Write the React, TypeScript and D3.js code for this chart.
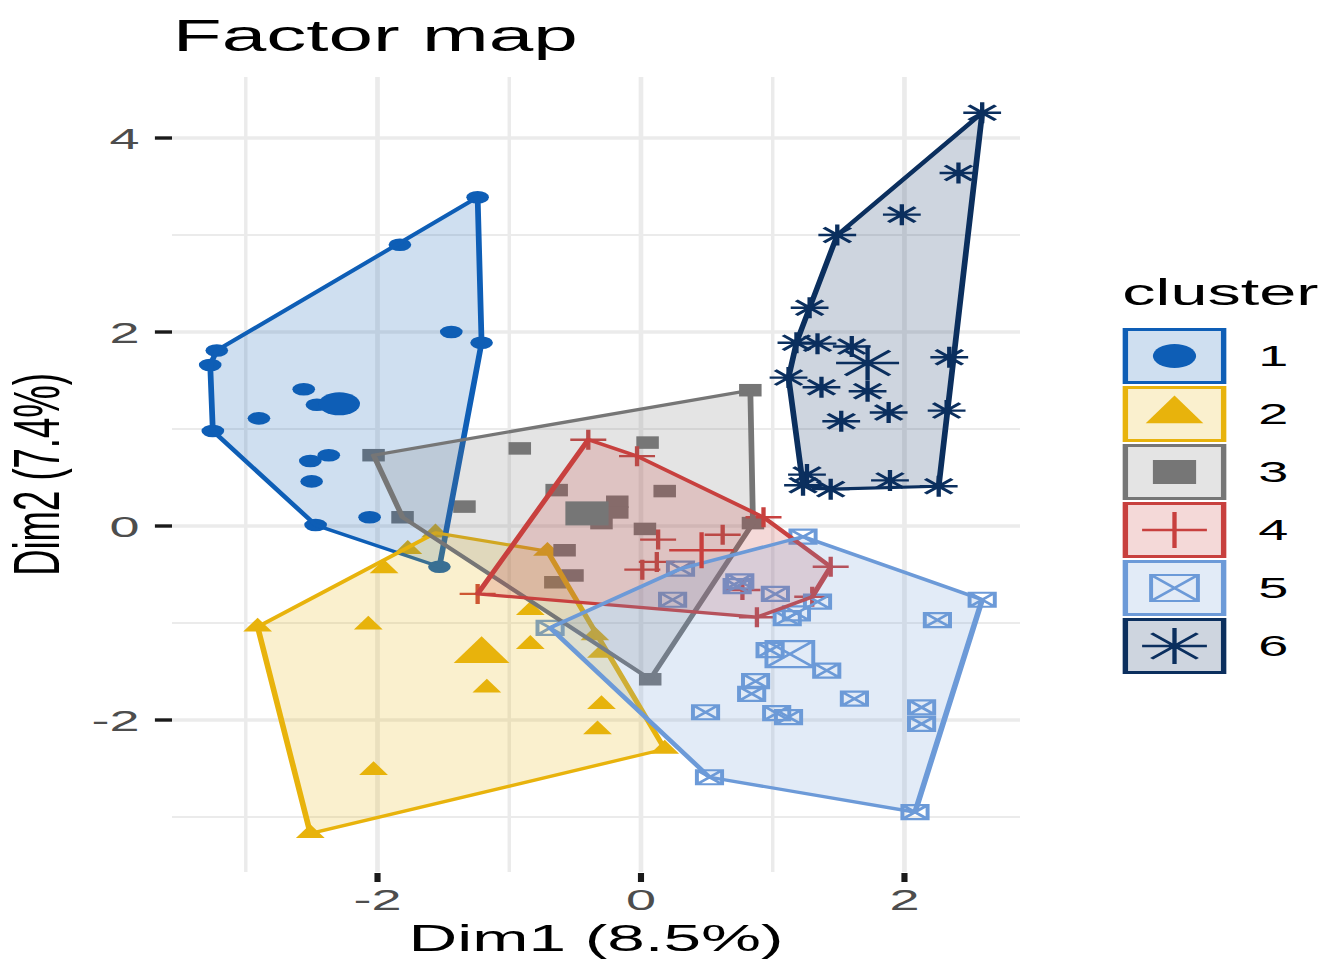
import React from 'react';
import * as d3 from 'd3';

// the reference picture is stretched sideways, so we draw in a narrow viewBox and stretch it
const K = 1.8;
const W = 1335;
const H = 961;
const VBW = W / K;

const clusterIds = ['1', '2', '3', '4', '5', '6'];
const clusterColors = ['#0E5EB6', '#E8B30C', '#767676', '#C8403E', '#6C9AD8', '#0B2F5E'];
const clusterShapes = ['circle', 'triangle', 'square', 'cross', 'boxx', 'star'];

type Pt = [number, number];

const cluster1: Pt[] = [
  [-1.24, 3.39], [-1.83, 2.9], [-1.44, 2.0], [-1.21, 1.89], [-3.22, 1.81], [-3.27, 1.66],
  [-2.56, 1.41], [-2.46, 1.25], [-2.9, 1.11], [-3.25, 0.98], [-2.37, 0.73], [-2.51, 0.67],
  [-2.5, 0.46], [-2.06, 0.09], [-2.47, 0.01], [-1.53, -0.42],
];
const cluster2: Pt[] = [
  [-2.91, -1.04], [-2.51, -3.17], [0.18, -2.3], [-1.56, -0.07], [-0.71, -0.26], [-1.77, -0.24],
  [-1.95, -0.44], [-2.07, -1.02], [-0.84, -0.87], [-0.84, -1.22], [-1.17, -1.67], [-0.35, -1.13],
  [-0.3, -1.31], [-0.3, -1.84], [-0.33, -2.1], [-2.03, -2.52],
];
const cluster3: Pt[] = [
  [0.83, 1.4], [-2.03, 0.73], [0.07, -1.58], [0.85, 0.03], [-1.81, 0.09], [-0.92, 0.8],
  [-1.34, 0.2], [0.05, 0.86], [-0.64, 0.37], [0.18, 0.36], [-0.18, 0.25], [-0.18, 0.14],
  [-0.3, 0.03], [0.03, -0.03], [-0.58, -0.25], [-0.52, -0.51], [-0.65, -0.58],
];
const cluster4: Pt[] = [
  [-0.4, 0.89], [-0.03, 0.72], [0.93, 0.09], [1.44, -0.42], [1.3, -0.73], [0.88, -0.94],
  [-1.24, -0.7], [0.13, -0.14], [0.62, -0.09], [0.12, -0.37], [0.01, -0.45], [0.77, -0.66],
];
const cluster5: Pt[] = [
  [1.23, -0.11], [2.59, -0.76], [2.08, -2.95], [0.52, -2.59], [-0.69, -1.05], [0.3, -0.44],
  [0.75, -0.57], [0.73, -0.62], [1.02, -0.7], [0.24, -0.76], [1.34, -0.78], [1.18, -0.9],
  [1.11, -0.95], [2.25, -0.97], [0.98, -1.28], [1.41, -1.49], [0.87, -1.6], [0.84, -1.73],
  [1.62, -1.78], [0.49, -1.92], [1.03, -1.93], [1.12, -1.97], [2.13, -1.87], [2.13, -2.04],
];
const cluster6: Pt[] = [
  [2.59, 4.26], [2.41, 3.64], [1.98, 3.21], [1.49, 3.0], [1.28, 2.25], [1.18, 1.89],
  [1.34, 1.88], [1.6, 1.85], [1.12, 1.53], [1.37, 1.43], [1.72, 1.39], [2.34, 1.74],
  [2.32, 1.19], [1.52, 1.08], [1.88, 1.17], [1.26, 0.53], [1.23, 0.42], [1.44, 0.38],
  [1.89, 0.47], [2.26, 0.41],
];
const clusters = [cluster1, cluster2, cluster3, cluster4, cluster5, cluster6];

const centroids: Pt[] = [
  [-2.29, 1.26], [-1.21, -1.32], [-0.41, 0.13], [0.46, -0.25], [1.13, -1.32], [1.72, 1.68],
];

const xMajor = [-2, 0, 2];
const xMinor = [-3, -1, 1];
const yMajor = [-2, 0, 2, 4];
const yMinor = [-3, -1, 1, 3];

const title = 'Factor map';
const xTitle = 'Dim1 (8.5%)';
const yTitle = 'Dim2 (7.4%)';
const legendTitle = 'cluster';

// panel box in viewBox units
const left = 172 / K;
const right = 1020 / K;
const top = 77;
const bottom = 872;

const x = d3.scaleLinear().domain([-3.56, 2.877]).range([left, right]);
const y = d3.scaleLinear().domain([-3.567, 4.629]).range([bottom, top]);

const pointSize: Record<string, number> = { circle: 12.6, triangle: 16, square: 12.5, cross: 20, boxx: 14, star: 21 };
const centerSize: Record<string, number> = { circle: 23, triangle: 31, square: 24, cross: 36, boxx: 26, star: 35 };
const keySize: Record<string, number> = { circle: 24, triangle: 32, square: 24, cross: 36, boxx: 26, star: 36 };

const FONT = '"Liberation Sans", Arial, Helvetica, sans-serif';

function Glyph({ shape, color, s }: { shape: string; color: string; s: number }) {
  const h = s / 2;
  switch (shape) {
    case 'circle':
      return <circle r={h} fill={color} />;
    case 'triangle': {
      const th = (s * Math.sqrt(3)) / 2;
      return <path d={`M0,${(-2 * th) / 3}L${h},${th / 3}L${-h},${th / 3}Z`} fill={color} />;
    }
    case 'square':
      return <rect x={-h} y={-h} width={s} height={s} fill={color} />;
    case 'cross':
      return <path d={`M${-h},0H${h}M0,${-h}V${h}`} stroke={color} strokeWidth={2.4} fill="none" />;
    case 'boxx':
      return (
        <path
          d={`M${-h},${-h}H${h}V${h}H${-h}ZM${-h},${-h}L${h},${h}M${h},${-h}L${-h},${h}`}
          stroke={color}
          strokeWidth={2.2}
          fill="none"
        />
      );
    case 'star': {
      const d = h / Math.SQRT2;
      return (
        <path
          d={`M${-h},0H${h}M0,${-h}V${h}M${-d},${-d}L${d},${d}M${d},${-d}L${-d},${d}`}
          stroke={color}
          strokeWidth={2.4}
          fill="none"
        />
      );
    }
    default:
      return null;
  }
}

export default function App() {
  const hulls = clusters.map((pts) => d3.polygonHull(pts.map((p) => [x(p[0]), y(p[1])] as [number, number])));

  return (
    <svg
      width={W}
      height={H}
      viewBox={`0 0 ${VBW} ${H}`}
      preserveAspectRatio="none"
      style={{ position: 'fixed', left: 0, top: 0, background: '#fff' }}
      fontFamily={FONT}
    >
      <rect x={0} y={0} width={VBW} height={H} fill="#fff" />

      {/* grid */}
      <g stroke="#EBEBEB">
        {xMinor.map((v) => (
          <line key={'xm' + v} x1={x(v)} x2={x(v)} y1={top} y2={bottom} strokeWidth={1.9} />
        ))}
        {yMinor.map((v) => (
          <line key={'ym' + v} x1={left} x2={right} y1={y(v)} y2={y(v)} strokeWidth={2.2} />
        ))}
        {xMajor.map((v) => (
          <line key={'xM' + v} x1={x(v)} x2={x(v)} y1={top} y2={bottom} strokeWidth={2.6} />
        ))}
        {yMajor.map((v) => (
          <line key={'yM' + v} x1={left} x2={right} y1={y(v)} y2={y(v)} strokeWidth={3.6} />
        ))}
      </g>

      {/* points */}
      {clusters.map((pts, i) => (
        <g key={'p' + i}>
          {pts.map((p, j) => (
            <g key={j} transform={`translate(${x(p[0])},${y(p[1])})`}>
              <Glyph shape={clusterShapes[i]} color={clusterColors[i]} s={pointSize[clusterShapes[i]]} />
            </g>
          ))}
        </g>
      ))}

      {/* convex hulls */}
      {hulls.map((hull, i) =>
        hull ? (
          <path
            key={'h' + i}
            d={'M' + hull.map((p) => p.join(',')).join('L') + 'Z'}
            fill={clusterColors[i]}
            fillOpacity={0.2}
            stroke={clusterColors[i]}
            strokeWidth={3.2}
            strokeLinejoin="round"
          />
        ) : null
      )}

      {/* centroids */}
      {centroids.map((p, i) => (
        <g key={'c' + i} transform={`translate(${x(p[0])},${y(p[1])})`}>
          <Glyph shape={clusterShapes[i]} color={clusterColors[i]} s={centerSize[clusterShapes[i]]} />
        </g>
      ))}

      {/* axes */}
      <g stroke="#1a1a1a" strokeWidth={3.4}>
        {xMajor.map((v) => (
          <line key={'xt' + v} x1={x(v)} x2={x(v)} y1={bottom + 1} y2={bottom + 10} />
        ))}
        {yMajor.map((v) => (
          <line key={'yt' + v} x1={left - 9.5} x2={left} y1={y(v)} y2={y(v)} />
        ))}
      </g>
      <g fill="#4D4D4D" fontSize={30}>
        {xMajor.map((v) => (
          <text key={'xl' + v} x={x(v)} y={910} textAnchor="middle">
            {v < 0 ? '-' + Math.abs(v) : v}
          </text>
        ))}
        {yMajor.map((v) => (
          <text key={'yl' + v} x={left - 18} y={y(v) + 11} textAnchor="end">
            {v < 0 ? '-' + Math.abs(v) : v}
          </text>
        ))}
      </g>

      <text x={(left + right) / 2} y={951} textAnchor="middle" fontSize={37.5} fill="#000">
        {xTitle}
      </text>
      <text
        transform={`translate(33,${(top + bottom) / 2}) rotate(-90)`}
        textAnchor="middle"
        fontSize={36.5}
        fill="#000"
      >
        {yTitle}
      </text>
      <text x={96} y={51} fontSize={44.5} fill="#000">
        {title}
      </text>

      {/* legend */}
      <text x={623.5} y={305} fontSize={37} fill="#000">
        {legendTitle}
      </text>
      {clusterIds.map((id, i) => {
        const ky = 328 + i * 58;
        return (
          <g key={'k' + id}>
            <rect
              x={625.2}
              y={ky + 1.5}
              width={54.6}
              height={53}
              fill={clusterColors[i]}
              fillOpacity={0.2}
              stroke={clusterColors[i]}
              strokeWidth={3}
            />
            <g transform={`translate(652.5,${ky + 28})`}>
              <Glyph shape={clusterShapes[i]} color={clusterColors[i]} s={keySize[clusterShapes[i]]} />
            </g>
            <text x={699} y={ky + 38} fontSize={30} fill="#000">
              {id}
            </text>
          </g>
        );
      })}
    </svg>
  );
}
